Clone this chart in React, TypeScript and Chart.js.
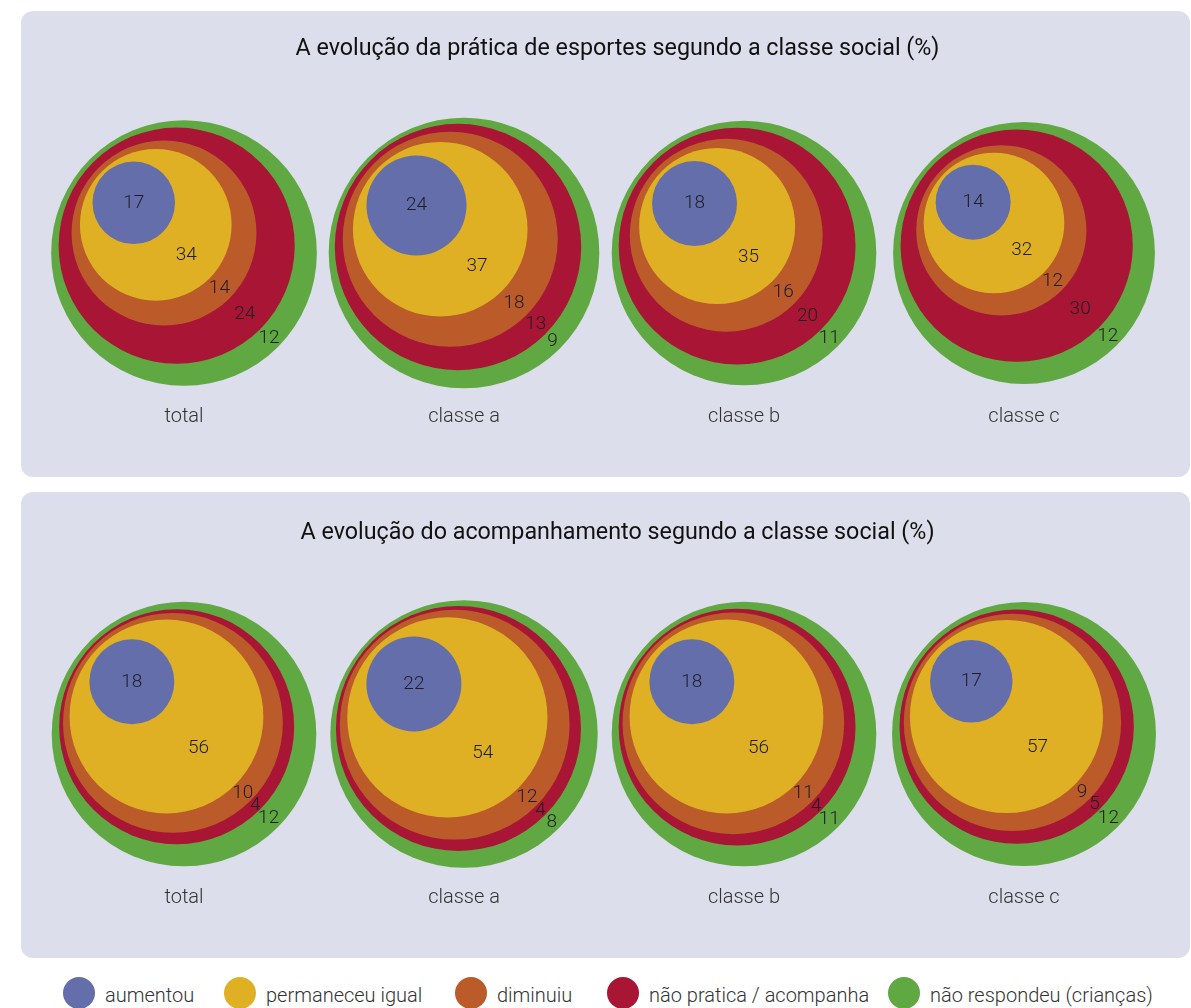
import React, { useEffect, useRef } from "react";
import { Chart, registerables } from "chart.js";

Chart.register(...registerables);

// ---------- data ----------
const groups = ["total", "classe a", "classe b", "classe c"];
const categories = [
  "aumentou",
  "permaneceu igual",
  "diminuiu",
  "não pratica / acompanha",
  "não respondeu (crianças)",
];
const colors = ["#646eab", "#dfb024", "#bb5b2a", "#a91535", "#60a842"];

const praticaTitle = "A evolução da prática de esportes segundo a classe social (%)";
const praticaAumentou = [17, 24, 18, 14];
const praticaPermaneceu = [34, 37, 35, 32];
const praticaDiminuiu = [14, 18, 16, 12];
const praticaNaoPratica = [24, 13, 20, 30];
const praticaNaoRespondeu = [12, 9, 11, 12];

const acompTitle = "A evolução do acompanhamento segundo a classe social (%)";
const acompAumentou = [18, 22, 18, 17];
const acompPermaneceu = [56, 54, 56, 57];
const acompDiminuiu = [10, 12, 11, 9];
const acompNaoAcompanha = [4, 4, 4, 5];
const acompNaoRespondeu = [12, 8, 11, 12];

// ---------- style / geometry constants ----------
const FONT = "Roboto, 'Open Sans', 'DejaVu Sans', sans-serif";
const CANVAS_W = 1169;
const CANVAS_H = 466;
const PAD_L = 36;
const PAD_R = 12;
const PX_PER_UNIT = 280; // x and y scales share this pixel density
const FIRST_CENTER_PX = 163; // canvas x of the first group's centre
const X_MIN = -(FIRST_CENTER_PX - PAD_L) / PX_PER_UNIT;
const X_MAX = X_MIN + (CANVAS_W - PAD_L - PAD_R) / PX_PER_UNIT;
// radius model (in x units): inner disc, then one ring per further category
const CORE_BASE = 20 / PX_PER_UNIT;
const CORE_PER_PCT = 1.25 / PX_PER_UNIT;
const RING_BASE = 4 / PX_PER_UNIT;
const RING_PER_PCT = 0.9 / PX_PER_UNIT;
const OFFSET_K = [0.9, 0.7, 0.7, 0.7]; // how far each circle slides toward its parent's upper-left edge
const LABEL_Y = -0.586; // group label row, in y units
const Y_MAX = 0.65;
const Y_MIN = Y_MAX - 360 / PX_PER_UNIT;
const LEGEND_LEFT = [63, 224, 455, 607, 888];

type Pt = { x: number; y: number; ru: number; v: number };

function buildDatasets(series: number[][]) {
  const s = Math.SQRT1_2;
  const perLayer: Pt[][] = series.map(() => []);
  groups.forEach((_, i) => {
    const ru: number[] = [];
    series.forEach((arr, j) => {
      ru[j] = j === 0 ? CORE_BASE + CORE_PER_PCT * arr[i] : ru[j - 1] + RING_BASE + RING_PER_PCT * arr[i];
    });
    const last = series.length - 1;
    const cx: number[] = [];
    const cy: number[] = [];
    cx[last] = i;
    cy[last] = 0;
    for (let j = last - 1; j >= 0; j--) {
      const d = OFFSET_K[j] * (ru[j + 1] - ru[j]);
      cx[j] = cx[j + 1] - d * s;
      cy[j] = cy[j + 1] + d * s;
    }
    series.forEach((arr, j) => {
      perLayer[j].push({ x: cx[j], y: cy[j], ru: ru[j], v: arr[i] });
    });
  });
  return perLayer.map((data, j) => ({
    label: categories[j],
    data,
    showLine: false,
    pointStyle: "circle",
    pointBackgroundColor: colors[j],
    backgroundColor: colors[j],
    pointBorderWidth: 0,
    pointHoverBorderWidth: 0,
    clip: false as const,
    pointRadius: (ctx: any) => {
      const xs = ctx.chart.scales.x;
      const raw = ctx.raw as Pt;
      if (!xs || !raw) return 0;
      const r = xs.getPixelForValue(raw.ru) - xs.getPixelForValue(0);
      return isFinite(r) ? r : 0;
    },
  }));
}

const labelsPlugin = {
  id: "ringLabels",
  afterDatasetsDraw(chart: any) {
    const ctx = chart.ctx as CanvasRenderingContext2D;
    const s = Math.SQRT1_2;
    const n = chart.data.datasets.length;
    ctx.save();
    ctx.textAlign = "center";
    ctx.textBaseline = "middle";
    ctx.font = `300 19px ${FONT}`;
    ctx.fillStyle = "#1e1e24";
    groups.forEach((_, i) => {
      for (let j = 0; j < n; j++) {
        const el = chart.getDatasetMeta(j).data[i];
        const raw = chart.data.datasets[j].data[i] as Pt;
        const r = el.options.radius;
        let tx = el.x;
        let ty = el.y;
        if (j > 0) {
          const inner = chart.getDatasetMeta(j - 1).data[i];
          const ri = inner.options.radius;
          tx = (inner.x + ri * s + el.x + r * s) / 2;
          ty = (inner.y + ri * s + el.y + r * s) / 2;
        }
        ctx.fillText(String(raw.v), tx, ty);
      }
    });
    const xs = chart.scales.x;
    const ys = chart.scales.y;
    ctx.font = `300 20px ${FONT}`;
    ctx.fillStyle = "#333333";
    groups.forEach((g, i) => {
      ctx.fillText(g, xs.getPixelForValue(i), ys.getPixelForValue(LABEL_Y));
    });
    ctx.restore();
  },
};

function Panel({ title, series, top, titlePadTop }: { title: string; series: number[][]; top: number; titlePadTop: number }) {
  const ref = useRef<HTMLCanvasElement | null>(null);
  useEffect(() => {
    if (!ref.current) return;
    const chart = new Chart(ref.current, {
      type: "scatter",
      data: { datasets: buildDatasets(series) as any },
      options: {
        animation: false,
        responsive: false,
        events: [],
        layout: { padding: { left: PAD_L, right: PAD_R, top: 0, bottom: 46 } },
        scales: {
          x: { type: "linear", min: X_MIN, max: X_MAX, display: false },
          y: { type: "linear", min: Y_MIN, max: Y_MAX, display: false },
        },
        plugins: {
          legend: { display: false },
          tooltip: { enabled: false },
          title: {
            display: true,
            text: title,
            color: "#111111",
            font: { family: FONT, size: 23.3, weight: "normal" as any, lineHeight: "26px" as any },
            padding: { top: titlePadTop, bottom: 34 - titlePadTop },
          },
        },
      },
      plugins: [labelsPlugin],
    });
    return () => chart.destroy();
  }, []);
  return (
    <div
      style={{
        position: "absolute",
        left: 21,
        top,
        width: CANVAS_W,
        height: CANVAS_H,
        background: "#dcdeeb",
        borderRadius: 12,
      }}
    >
      <canvas ref={ref} width={CANVAS_W} height={CANVAS_H} style={{ display: "block" }} />
    </div>
  );
}

export default function App() {
  const pratica = [praticaAumentou, praticaPermaneceu, praticaDiminuiu, praticaNaoPratica, praticaNaoRespondeu];
  const acomp = [acompAumentou, acompPermaneceu, acompDiminuiu, acompNaoAcompanha, acompNaoRespondeu];
  return (
    <div style={{ position: "absolute", left: 0, top: 0, width: 1191, height: 1008, overflow: "hidden", background: "#ffffff" }}>
      <Panel title={praticaTitle} series={pratica} top={11} titlePadTop={25} />
      <Panel title={acompTitle} series={acomp} top={492} titlePadTop={28} />
      {categories.map((c, j) => (
        <div
          key={c}
          style={{
            position: "absolute",
            left: LEGEND_LEFT[j],
            top: 977,
            height: 32,
            display: "flex",
            alignItems: "center",
            whiteSpace: "nowrap",
            fontFamily: FONT,
            fontWeight: 300,
            fontSize: 20,
            color: "#333333",
          }}
        >
          <span
            style={{
              display: "inline-block",
              width: 32,
              height: 32,
              borderRadius: "50%",
              background: colors[j],
              marginRight: 10,
            }}
          />
          <span style={{ position: "relative", top: 2 }}>{c}</span>
        </div>
      ))}
    </div>
  );
}
